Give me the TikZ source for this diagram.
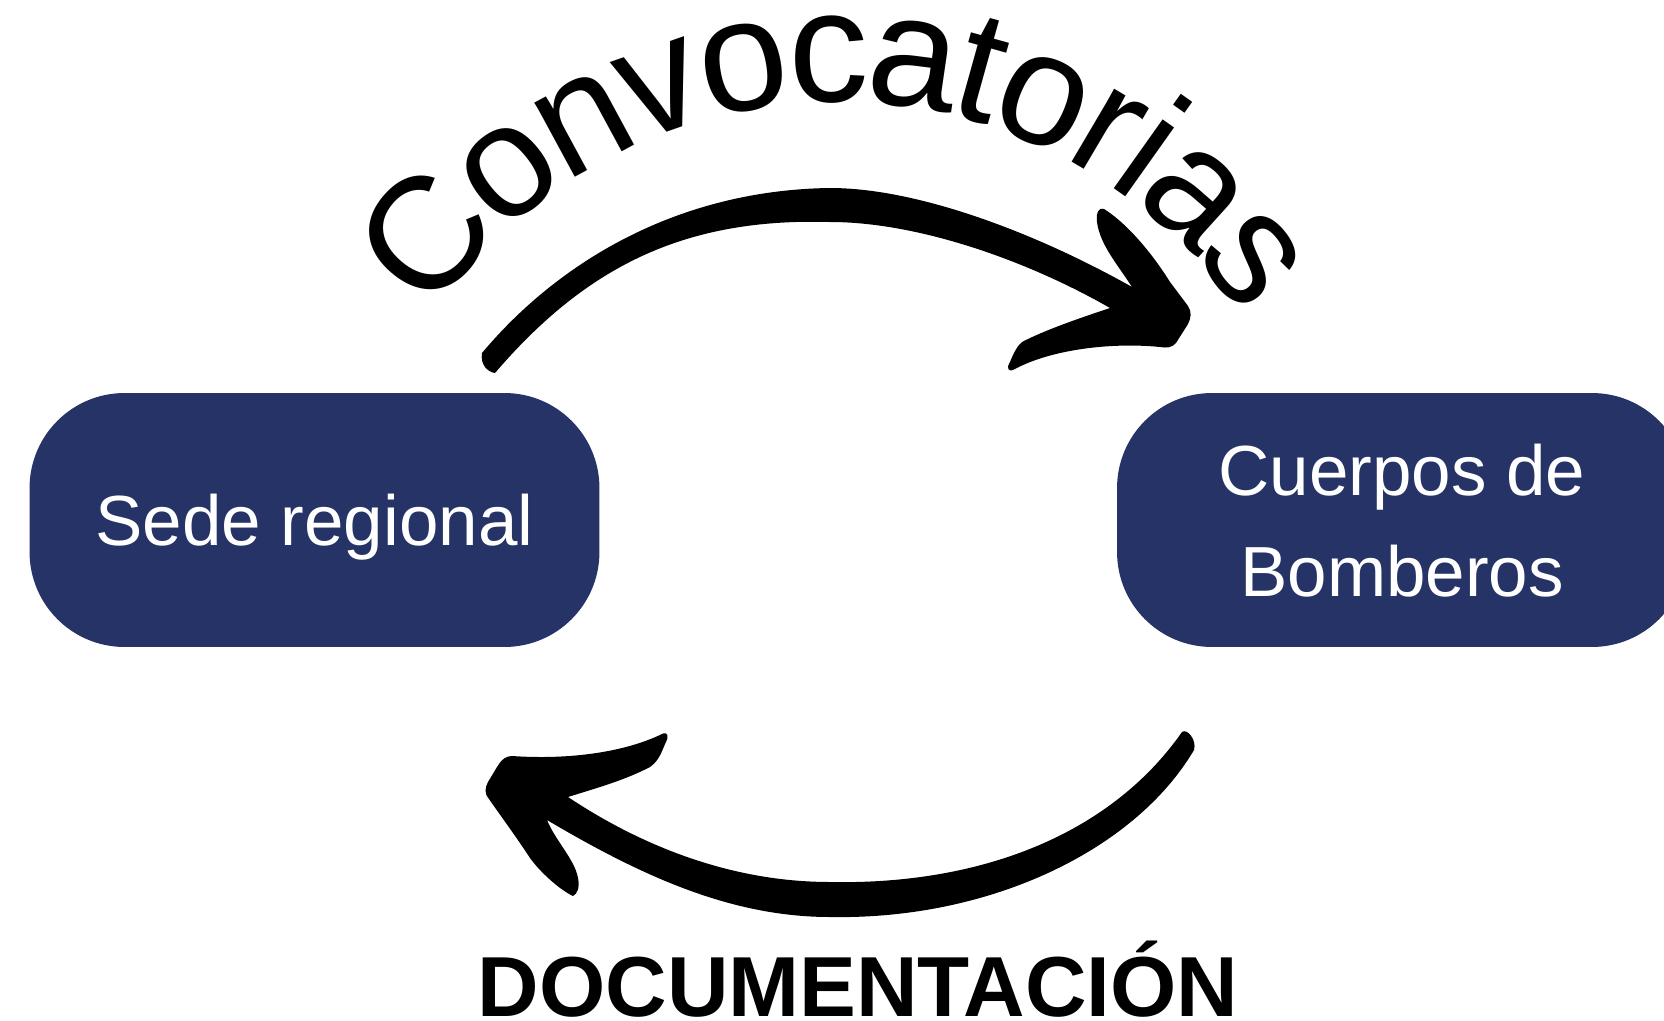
\documentclass[tikz,border=0pt]{standalone}
\usepackage{fontspec}
\setmainfont{Liberation Sans}
\usetikzlibrary{positioning,decorations.text}
\definecolor{navy}{RGB}{38,51,102}

\begin{document}
\begin{tikzpicture}[x=0.02cm,y=-0.02cm,
    box/.style={fill=navy,text=white,rounded corners=1.9cm,
      minimum width=11.4cm,minimum height=5.08cm,inner sep=0pt,
      align=center,text depth=0pt,font=\fontsize{40.4}{57.5}\selectfont},
    brush/.style={fill=black}]
  \useasboundingbox (0,0) rectangle (1664,1021);

  \node[box] (sede) at (314.5,520) {Sede regional};
  \node[box] (bomberos) [right=10.34cm of sede] {Cuerpos de\\Bomberos};
  \node[anchor=base,font=\fontsize{48.5}{58}\selectfont\bfseries] (docu) at (858,1016) {DOCUMENTACIÓN};

  \path[decorate,decoration={text effects along path,text={Convocatorias},
      text effects/.cd,text along path,fit text to path,
      characters={font=\fontsize{91}{100}\selectfont,inner sep=0pt,anchor=base}}]
    (431.6,317.6) arc (214:326:489);

  \fill[brush] (482,353)
    .. controls (560,260) and (680,190) .. (830,188)
    .. controls (920,188) and (1040,235) .. (1132,287)
    .. controls (1118,265) and (1100,245) .. (1097,222)
    .. controls (1096,212) and (1099,207) .. (1104,209)
    .. controls (1125,222) and (1150,250) .. (1170,282)
    -- (1188,306)
    .. controls (1192,312) and (1191,318) .. (1188,324)
    -- (1176,343)
    .. controls (1172,348) and (1166,348) .. (1160,347)
    .. controls (1110,342) and (1050,350) .. (1015,369)
    .. controls (1008,373) and (1006,368) .. (1010,362)
    .. controls (1014,352) and (1018,345) .. (1022,342)
    .. controls (1045,330) and (1080,318) .. (1110,308)
    .. controls (1030,262) and (920,222) .. (830,222)
    .. controls (690,218) and (590,262) .. (495,373)
    .. controls (488,372) and (480,365) .. (482,353) -- cycle;

  \fill[brush] (1182,732)
    .. controls (1187,728) and (1197,740) .. (1194,750)
    .. controls (1135,850) and (990,920) .. (830,917)
    .. controls (730,917) and (640,875) .. (547,820)
    .. controls (555,840) and (575,860) .. (578,878)
    .. controls (580,888) and (577,894) .. (573,896)
    .. controls (560,890) and (540,872) .. (530,858)
    .. controls (515,835) and (500,815) .. (489,799)
    .. controls (484,793) and (485,788) .. (488,782)
    -- (497,767)
    .. controls (502,759) and (506,756) .. (512,756)
    .. controls (570,760) and (625,752) .. (662,734)
    .. controls (668,731) and (669,737) .. (666,742)
    .. controls (662,750) and (660,760) .. (650,767)
    .. controls (625,780) and (600,787) .. (568,797)
    .. controls (640,845) and (730,882) .. (830,882)
    .. controls (980,885) and (1110,835) .. (1182,732) -- cycle;
\end{tikzpicture}
\end{document}
